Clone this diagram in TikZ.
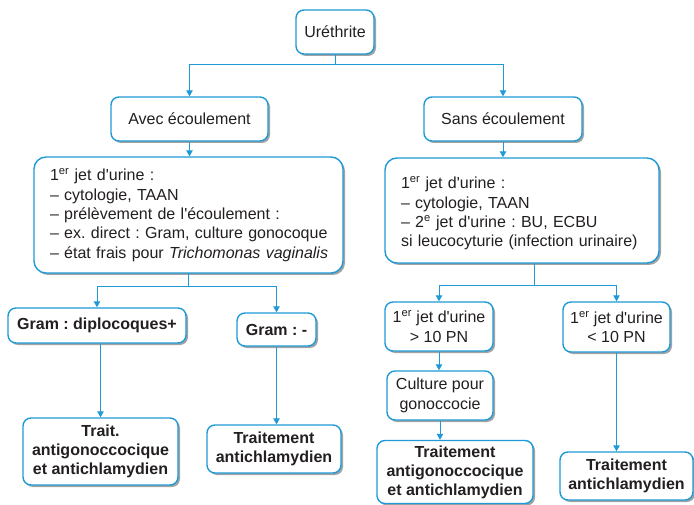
\documentclass[tikz,border=0pt]{standalone}
\usepackage{fontspec}
\setmainfont{Liberation Sans}
\usetikzlibrary{arrows.meta,shadows}
\definecolor{lineblue}{HTML}{1E9AD6}
\definecolor{inkgrey}{HTML}{231F20}
% straight apostrophe
\newcommand{\ap}{\textquotesingle}
\begin{document}
\frenchspacing
\begin{tikzpicture}[x=1pt,y=-1pt,
  box/.style={draw=lineblue, line width=1.4pt, fill=white, rounded corners=8pt,
    inner sep=0pt, align=center, text=inkgrey,
    font=\fontsize{16}{19.4}\selectfont\frenchspacing,
    drop shadow={shadow xshift=2pt, shadow yshift=-2pt, fill=black!45, opacity=0.8}},
  boldbox/.style={box, font=\fontsize{16}{19}\selectfont\bfseries\frenchspacing},
  listbox/.style={box, rounded corners=12pt, align=left, inner xsep=16pt},
  conn/.style={draw=lineblue, line width=1pt},
  arr/.style={conn, -{Triangle[length=6pt,width=6.5pt]}}]
\useasboundingbox (0,0) rectangle (694,505);

% top level
\node[box, minimum width=78pt, minimum height=44pt] (ure) at (335,32) {Uréthrite};
\node[box, minimum width=157pt, minimum height=44pt] (avec) at (189.5,119) {Avec écoulement};
\node[box, minimum width=158pt, minimum height=44pt] (sans) at (503,119) {Sans écoulement};

% first-void urine boxes
\node[listbox, text width=277pt, minimum height=116pt] (lbig) at (188.5,215)
  {\mbox{1\textsuperscript{er} jet d\ap urine :}\\
   \mbox{– cytologie, TAAN}\\
   \mbox{– prélèvement de l\ap écoulement :}\\
   \mbox{– ex. direct : Gram, culture gonocoque}\\
   \mbox{– état frais pour \textit{Trichomonas vaginalis}}};
\node[listbox, text width=242pt, minimum height=105pt] (rbig) at (522,210.5)
  {\rule{0pt}{18pt}\mbox{1\textsuperscript{er} jet d\ap urine :}\\
   \mbox{– cytologie, TAAN}\\
   \mbox{– 2\textsuperscript{e} jet d\ap urine : BU, ECBU}\\
   \mbox{si leucocyturie (infection urinaire)}};

% left branch
\node[boldbox, minimum width=178pt, minimum height=35pt] (gp) at (97,325.5) {Gram : diplocoques+};
\node[boldbox, minimum width=79pt, minimum height=33pt] (gm) at (276.5,329.5) {Gram : -};
\node[boldbox, minimum width=155pt, minimum height=67pt] (t1) at (100.5,451.5)
  {Trait.\\antigonoccocique\\et antichlamydien};
\node[boldbox, minimum width=134pt, minimum height=48pt] (t2) at (274,449)
  {Traitement\\antichlamydien};

% right branch
\node[box, minimum width=108pt, minimum height=49pt] (j1) at (439,326.5)
  {1\textsuperscript{er} jet d\ap urine\\> 10 PN};
\node[box, minimum width=107pt, minimum height=50pt] (j2) at (616.5,327)
  {1\textsuperscript{er} jet d\ap urine\\< 10 PN};
\node[box, minimum width=106pt, minimum height=49pt] (cult) at (440,395.5)
  {Culture pour\\gonoccocie};
\node[boldbox, minimum width=156pt, minimum height=63pt] (t3) at (455,472)
  {Traitement\\antigonoccocique\\et antichlamydien};
\node[boldbox, minimum width=133pt, minimum height=48pt] (t4) at (626.5,476)
  {Traitement\\antichlamydien};

% branching points
\coordinate (us) at (335,65);
\coordinate (ls) at (188.5,287);
\coordinate (rs) at (534,286);

% connectors
\draw[conn] (ure.south) -- (us);
\draw[arr] (us) -| (avec.north);
\draw[arr] (us) -| (sans.north);
\draw[arr] (avec.south) -- (avec.south |- lbig.north);
\draw[arr] (sans.south) -- (sans.south |- rbig.north);

\draw[conn] (lbig.south) -- (ls);
\draw[arr] (ls) -| (gp.north);
\draw[arr] (ls) -| (gm.north);
\draw[arr] (t1.north |- gp.south) -- (t1.north);
\draw[arr] (gm.south) -- (gm.south |- t2.north);

\draw[conn] (rbig.south -| rs) -- (rs);
\draw[arr] (rs) -| (j1.north);
\draw[arr] (rs) -| (j2.north);
\draw[arr] (j1.south) -- (j1.south |- cult.north);
\draw[arr] (cult.south) -- (cult.south |- t3.north);
\draw[arr] (j2.south) -- (j2.south |- t4.north);
\end{tikzpicture}
\end{document}
